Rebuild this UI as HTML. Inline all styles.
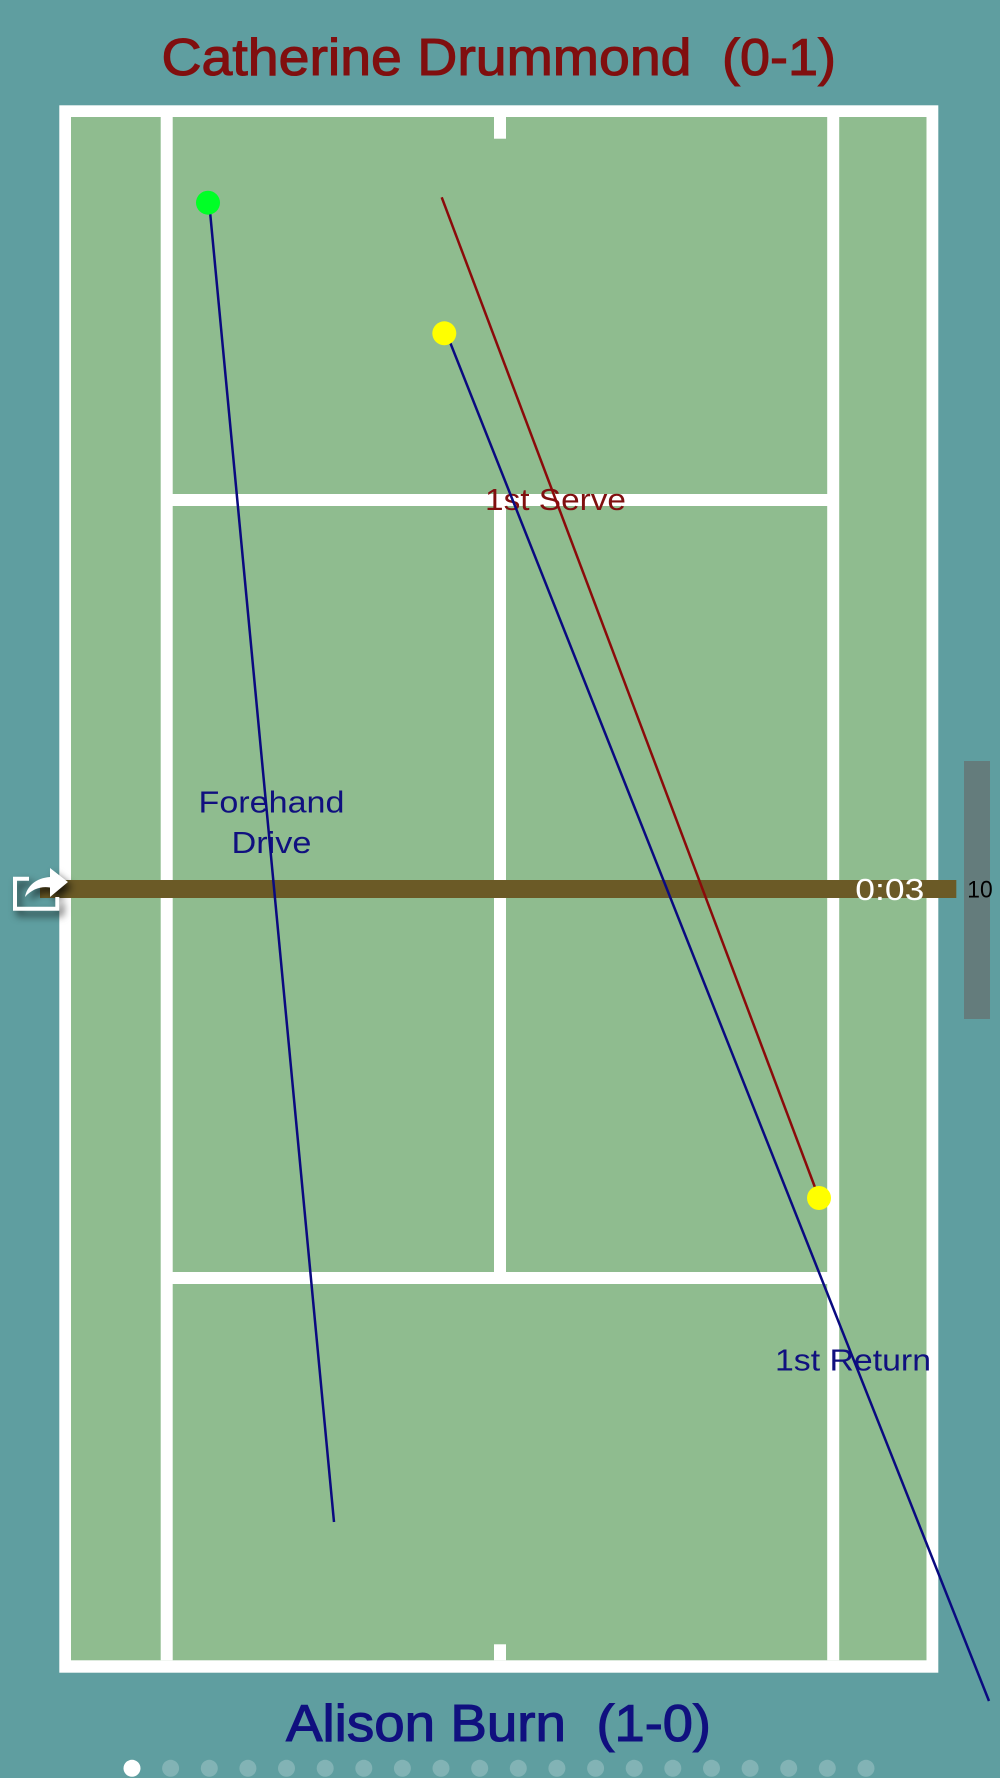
<!DOCTYPE html>
<html>
<head>
<meta charset="utf-8">
<style>
html,body{margin:0;padding:0;background:#5f9ea0;}
svg{display:block;font-family:"Liberation Sans",sans-serif;}
</style>
</head>
<body>
<svg width="1000" height="1778" viewBox="0 0 1000 1778" xmlns="http://www.w3.org/2000/svg">
<rect width="1000" height="1778" fill="#5f9ea0"/>
<g font-size="52" fill="#800f0f" stroke="#800f0f" stroke-width="1.1">
<text x="161.5" y="75" textLength="530" lengthAdjust="spacingAndGlyphs">Catherine Drummond</text>
<text x="722" y="75" textLength="114" lengthAdjust="spacingAndGlyphs">(0-1)</text>
</g>
<rect x="59.3" y="105.3" width="879" height="1567.4" fill="#fff"/>
<rect x="71" y="117" width="855.5" height="1543.3" fill="#8fbc8f"/>
<rect x="160.7" y="117" width="12" height="1543.3" fill="#fff"/>
<rect x="827.2" y="117" width="12" height="1543.3" fill="#fff"/>
<rect x="172" y="494" width="656" height="12" fill="#fff"/>
<rect x="172" y="1272" width="656" height="12" fill="#fff"/>
<rect x="494" y="494" width="12" height="790" fill="#fff"/>
<rect x="494" y="117" width="12" height="21.7" fill="#fff"/>
<rect x="494" y="1644.3" width="12" height="16" fill="#fff"/>
<text x="485" y="510" font-size="31" fill="#800f0f" textLength="141" lengthAdjust="spacingAndGlyphs">1st Serve</text>
<text x="198.5" y="812.7" font-size="31" fill="#10107f" textLength="146" lengthAdjust="spacingAndGlyphs">Forehand</text>
<text x="231.5" y="853" font-size="31" fill="#10107f" textLength="80" lengthAdjust="spacingAndGlyphs">Drive</text>
<text x="775" y="1370.7" font-size="31" fill="#10107f" textLength="156" lengthAdjust="spacingAndGlyphs">1st Return</text>
<rect x="40" y="880" width="916.3" height="18" fill="#6b5a26"/>
<line x1="209.2" y1="203" x2="334" y2="1522" stroke="#0a0a80" stroke-width="2.5"/>
<line x1="446.5" y1="333.3" x2="989" y2="1701" stroke="#0a0a80" stroke-width="2.5"/>
<line x1="441.7" y1="197.3" x2="819" y2="1198" stroke="#8b0a0a" stroke-width="2.5"/>
<circle cx="208" cy="202.7" r="12" fill="#00ff26"/>
<circle cx="444.3" cy="333.3" r="12" fill="#ffff00"/>
<circle cx="819" cy="1198" r="12" fill="#ffff00"/>
<text x="855.3" y="900" font-size="31" fill="#fff" textLength="69" lengthAdjust="spacingAndGlyphs">0:03</text>
<rect x="964" y="761" width="26" height="258" fill="#647c7c"/>
<text x="967.3" y="897.3" font-size="24" fill="#000" textLength="25.4" lengthAdjust="spacingAndGlyphs">10</text>
<g style="filter:drop-shadow(4px 5px 4px rgba(0,0,0,.7))" fill="#fff">
<path d="M13 876.7H29V880.7H17V906.7H55.3V897H59.3V910.7H13Z"/>
<path d="M25 897C27 886 36 878 50 877V868L68 882L50 897V887.5C41 886 32 889 25 897Z"/>
</g>
<g font-size="52" fill="#10107f" stroke="#10107f" stroke-width="1.1">
<text x="286" y="1741" textLength="280" lengthAdjust="spacingAndGlyphs">Alison Burn</text>
<text x="596.5" y="1741" textLength="114.5" lengthAdjust="spacingAndGlyphs">(1-0)</text>
</g>
<circle cx="132" cy="1768.3" r="8.5" fill="#fff"/>
<g fill="#fff" fill-opacity=".22">
<circle cx="170.6" cy="1768.3" r="8.5"/>
<circle cx="209.3" cy="1768.3" r="8.5"/>
<circle cx="247.9" cy="1768.3" r="8.5"/>
<circle cx="286.5" cy="1768.3" r="8.5"/>
<circle cx="325.2" cy="1768.3" r="8.5"/>
<circle cx="363.8" cy="1768.3" r="8.5"/>
<circle cx="402.4" cy="1768.3" r="8.5"/>
<circle cx="441" cy="1768.3" r="8.5"/>
<circle cx="479.7" cy="1768.3" r="8.5"/>
<circle cx="518.3" cy="1768.3" r="8.5"/>
<circle cx="556.9" cy="1768.3" r="8.5"/>
<circle cx="595.6" cy="1768.3" r="8.5"/>
<circle cx="634.2" cy="1768.3" r="8.5"/>
<circle cx="672.8" cy="1768.3" r="8.5"/>
<circle cx="711.5" cy="1768.3" r="8.5"/>
<circle cx="750.1" cy="1768.3" r="8.5"/>
<circle cx="788.7" cy="1768.3" r="8.5"/>
<circle cx="827.3" cy="1768.3" r="8.5"/>
<circle cx="866" cy="1768.3" r="8.5"/>
</g>
</svg>
</body>
</html>
